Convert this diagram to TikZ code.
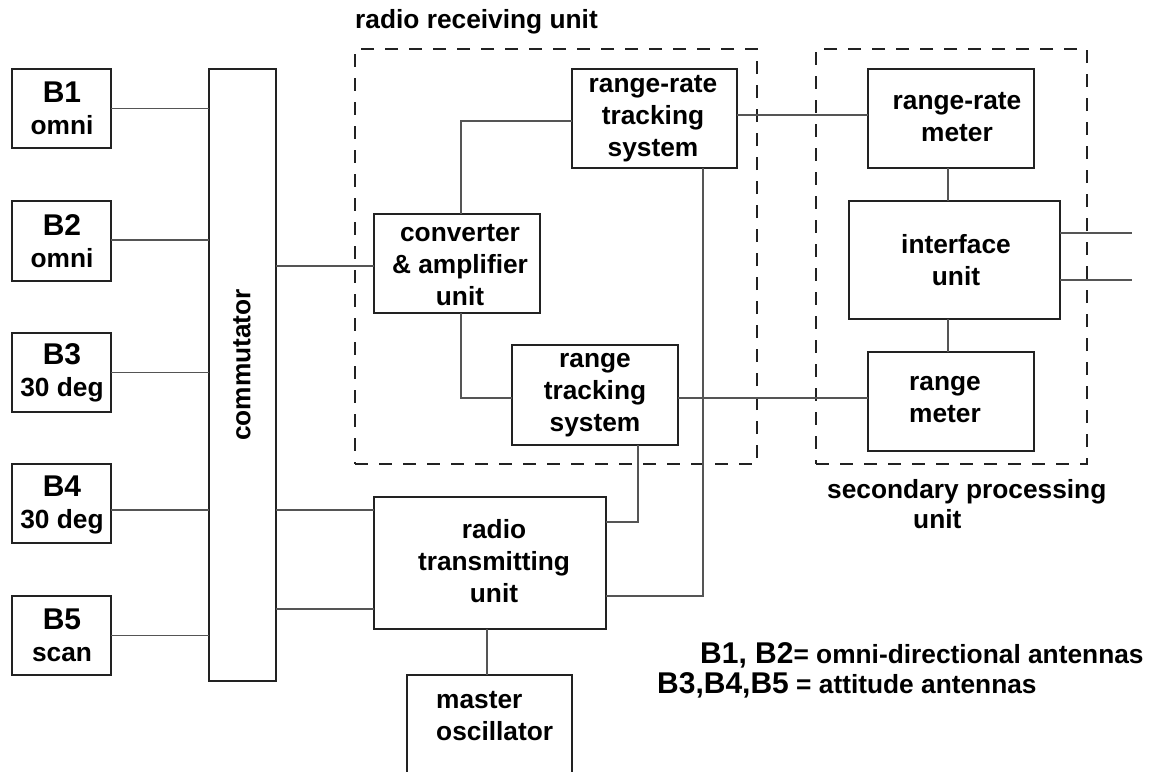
\documentclass[tikz,border=0pt]{standalone}
\usepackage{fontspec}
\setmainfont{Liberation Sans}
\usetikzlibrary{fit}
\definecolor{edgec}{HTML}{222222}
\definecolor{wirec}{HTML}{555555}
\begin{document}
\begin{tikzpicture}[x=1pt,y=-1pt,
  blk/.style={draw=edgec, line width=1.8pt, inner sep=0pt, outer sep=0pt},
  grp/.style={draw=edgec, line width=1.8pt, dash pattern=on 13pt off 11pt, inner sep=0pt, outer sep=0pt},
  wire/.style={draw=wirec, line width=1.2pt},
  txt/.style={font=\fontsize{26.3}{32}\selectfont\bfseries, align=center, inner sep=0pt, text=black}]
\useasboundingbox (0,0) rectangle (1155,771);
\clip (0,0) rectangle (1155,771);

% antenna boxes
\node[blk, fit={(12,69) (111,148)}] (b1) {};
\node[blk, fit={(12,201) (111,281)}] (b2) {};
\node[blk, fit={(12,333) (111,412)}] (b3) {};
\node[blk, fit={(12,464) (111,543)}] (b4) {};
\node[blk, fit={(12,596) (111,675)}] (b5) {};
\node[txt] (b1t) at (62,108.5) {{\fontsize{30}{33}\selectfont B1}\\omni};
\node[txt] (b2t) at (62,241) {{\fontsize{30}{33}\selectfont B2}\\omni};
\node[txt] (b3t) at (62,373) {{\fontsize{30}{33}\selectfont B3}\\30 deg};
\node[txt] (b4t) at (62,504.5) {{\fontsize{30}{33}\selectfont B4}\\30 deg};
\node[txt] (b5t) at (62,635) {{\fontsize{30}{33}\selectfont B5}\\scan};

% commutator
\node[blk, fit={(209,69) (276,681)}] (comm) {};
\node[txt, rotate=90] (commt) at (242,365) {commutator};

% group frames
\node[grp, fit={(355,49) (757,464)}] (rxg) {};
\node[grp, fit={(816,49) (1087,464)}] (spg) {};
\node[txt, anchor=base west] (rxgt) at (355,28) {radio receiving unit};
\node[txt, anchor=base west] (spgt1) at (827,498) {secondary processing};
\node[txt, anchor=base west] (spgt2) at (913,528) {unit};

% receiving chain
\node[blk, fit={(374,214) (540,313)}] (conv) {};
\node[txt] (convt) at (460,265.5) {converter\\\& amplifier\\unit};
\node[blk, fit={(572,69) (737,168)}] (rrt) {};
\node[txt] (rrtt) at (653,119) {range-rate\\tracking\\system};
\node[blk, fit={(512,345) (678,445)}] (rt) {};
\node[txt] (rtt) at (595,395) {range\\tracking\\system};

% transmitting chain
\node[blk, fit={(374,497) (606,629)}] (rtx) {};
\node[txt] (rtxt) at (494,561) {radio\\transmitting\\unit};
\node[blk, fit={(407,675) (572,800)}] (mo) {};
\node[txt, align=left, anchor=west] (mot) at (436,716) {master\\oscillator};

% secondary processing
\node[blk, fit={(868,69) (1034,168)}] (rrm) {};
\node[txt] (rrmt) at (957,117.5) {range-rate\\meter};
\node[blk, fit={(849,201) (1060,319)}] (ifu) {};
\node[txt] (ifut) at (956,260.5) {interface\\unit};
\node[blk, fit={(868,352) (1034,451)}] (rm) {};
\node[txt] (rmt) at (945,400) {range\\meter};

\coordinate (out1) at (1132,233);
\coordinate (out2) at (1132,280);

% antennas to commutator
\draw[wire] (b1.east) -- (b1.east -| comm.west);
\draw[wire] ([yshift=1pt]b2.east) -- ([yshift=1pt]b2.east -| comm.west);
\draw[wire] (b3.east) -- (b3.east -| comm.west);
\draw[wire] ([yshift=-6.5pt]b4.east) -- ([yshift=-6.5pt]b4.east -| comm.west);
\draw[wire] (b5.east) -- (b5.east -| comm.west);

% commutator outputs
\draw[wire] ([yshift=-2.5pt]conv.west -| comm.east) -- ([yshift=-2.5pt]conv.west);
\draw[wire] ([yshift=53pt]rtx.west -| comm.east) -- ([yshift=53pt]rtx.west);
\draw[wire] ([yshift=-46pt]rtx.west -| comm.east) -- ([yshift=-46pt]rtx.west);

% receiving unit internals
\draw[wire] ([xshift=4pt]conv.north) |- ([yshift=-2.5pt]rrt.west);
\draw[wire] ([xshift=4pt]conv.south) |- ([yshift=-3pt]rt.west);

% to secondary processing
\draw[wire] ([yshift=3.5pt]rrt.east) -- ([yshift=3.5pt]rrt.east -| rrm.west);
\draw[wire] ([yshift=-3pt]rt.east) -- ([yshift=-3pt]rt.east -| rm.west);

% feedback to transmitter
\draw[wire] ([xshift=48.5pt]rrt.south) |- ([yshift=-33pt]rtx.east);
\draw[wire] ([xshift=43pt]rt.south) |- ([yshift=41pt]rtx.east);
\draw[wire] ([xshift=-3pt]rtx.south) -- ([xshift=-3pt]rtx.south |- mo.north);

% secondary internals and outputs
\draw[wire] ([xshift=-3pt]rrm.south) -- ([xshift=-3pt]rrm.south |- ifu.north);
\draw[wire] ([xshift=-6.5pt]ifu.south) -- ([xshift=-6.5pt]ifu.south |- rm.north);
\draw[wire] (out1 -| ifu.east) -- (out1);
\draw[wire] (out2 -| ifu.east) -- (out2);

% legend
\node[txt, anchor=base west] (leg1) at (700,663) {{\fontsize{30}{33}\selectfont B1, B2}= omni-directional antennas};
\node[txt, anchor=base west] (leg2) at (657,693) {{\fontsize{30}{33}\selectfont B3,B4,B5} = attitude antennas};
\end{tikzpicture}
\end{document}
